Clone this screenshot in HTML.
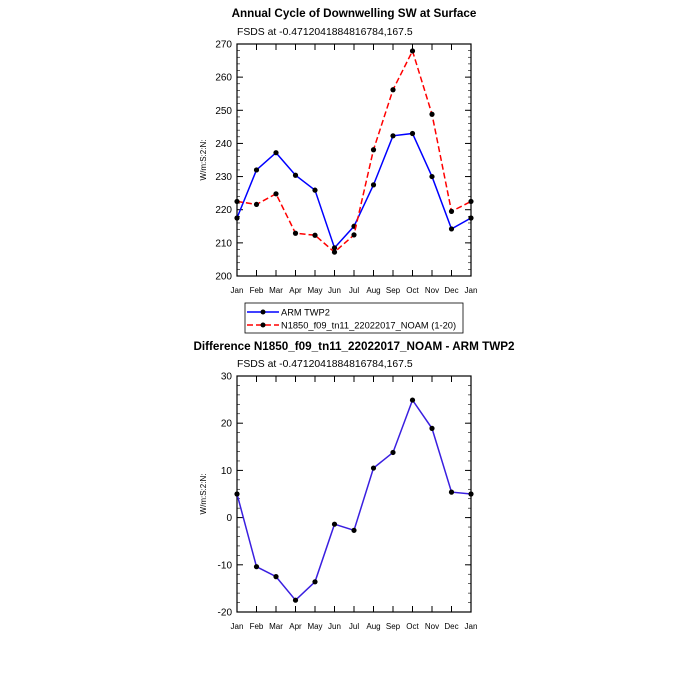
<!DOCTYPE html>
<html><head><meta charset="utf-8"><style>
body{margin:0;background:#fff}
svg{font-family:"Liberation Sans",sans-serif}
</style></head><body>
<svg id="c" width="675" height="675" viewBox="0 0 675 675">
<text x="354" y="17" text-anchor="middle" font-size="11.7" font-weight="bold">Annual Cycle of Downwelling SW at Surface</text>
<text x="237" y="35" font-size="10.4">FSDS at -0.4712041884816784,167.5</text>
<text transform="translate(206,160) rotate(-90)" text-anchor="middle" font-size="8">W/m:S:2:N:</text>
<text x="354" y="350" text-anchor="middle" font-size="11.7" font-weight="bold">Difference N1850_f09_tn11_22022017_NOAM - ARM TWP2</text>
<text x="237" y="367" font-size="10.4">FSDS at -0.4712041884816784,167.5</text>
<text transform="translate(206,494) rotate(-90)" text-anchor="middle" font-size="8">W/m:S:2:N:</text>
<g>
<rect x="245" y="303" width="218" height="30" fill="#fff" stroke="#000" stroke-width="0.8"/>
<g>
<line x1="247" y1="312" x2="279" y2="312" stroke="#0000ff" stroke-width="1.5"/><circle cx="263" cy="312" r="2.5"/>
<text x="281" y="315.5" font-size="9.3">ARM TWP2</text></g>
<g>
<line x1="247" y1="325" x2="279" y2="325" stroke="#ff0000" stroke-width="1.5" stroke-dasharray="6,3"/><circle cx="263" cy="325" r="2.5"/>
<text x="281" y="328.5" font-size="9.3">N1850_f09_tn11_22022017_NOAM (1-20)</text></g>
</g>
</svg>
<script>
const months=["Jan","Feb","Mar","Apr","May","Jun","Jul","Aug","Sep","Oct","Nov","Dec","Jan"];
const armValues=[217.5,232,237.2,230.4,225.9,208.5,215,227.5,242.3,243,230,214.2,217.5];
const modelValues=[222.5,221.6,224.8,212.9,212.3,207.2,212.4,238.1,256.2,267.9,248.8,219.5,222.5];
const diffValues=[5,-10.4,-12.5,-17.5,-13.6,-1.4,-2.7,10.5,13.8,24.9,18.9,5.4,5];
const topTicks=[200,210,220,230,240,250,260,270];
const bottomTicks=[-20,-10,0,10,20,30];
const NS="http://www.w3.org/2000/svg";
const svg=document.getElementById('c');
function mk(tag,attrs,parent){const e=document.createElementNS(NS,tag);for(const k in attrs)e.setAttribute(k,attrs[k]);(parent||svg).appendChild(e);return e;}
function panel(name,top,bot,ymin,ymax,ticks,minorStep,series){
  const L=237,R=471;
  const x=i=>L+(R-L)*i/(months.length-1);
  const y=v=>bot-(bot-top)*(v-ymin)/(ymax-ymin);
  const g=mk('g',{});
  
  
  const fr=mk('rect',{x:L,y:top,width:R-L,height:bot-top,fill:'none',stroke:'#000','stroke-width':1.2},g);
  
  
  for(let v=ymin;v<=ymax+1e-9;v+=minorStep){
    mk('line',{x1:L,x2:L+3,y1:y(v),y2:y(v),stroke:'#000','stroke-width':0.6},g);
    mk('line',{x1:R-3,x2:R,y1:y(v),y2:y(v),stroke:'#000','stroke-width':0.6},g);
  }
  ticks.forEach(v=>{
    mk('line',{x1:L,x2:L+6,y1:y(v),y2:y(v),stroke:'#000','stroke-width':1},g);
    mk('line',{x1:R-6,x2:R,y1:y(v),y2:y(v),stroke:'#000','stroke-width':1},g);
    const t=mk('text',{x:L-5,y:y(v)+3.5,'text-anchor':'end','font-size':10},g);
    t.textContent=v;
    
    
  });
  months.forEach((m,i)=>{
    mk('line',{x1:x(i),x2:x(i),y1:bot,y2:bot-6,stroke:'#000','stroke-width':1},g);
    mk('line',{x1:x(i),x2:x(i),y1:top,y2:top+6,stroke:'#000','stroke-width':1},g);
    const t=mk('text',{x:x(i),y:bot+17,'text-anchor':'middle','font-size':8},g);
    t.textContent=m;
    
    
  });
  series.forEach(s=>{
    const pl=mk('polyline',{points:s.vals.map((v,i)=>x(i)+','+y(v)).join(' '),fill:'none',stroke:s.color,'stroke-width':1.5,'stroke-dasharray':s.dash||'none'},g);
    
    
    s.vals.forEach((v,i)=>{
      const c=mk('circle',{cx:x(i),cy:y(v),r:2.6,fill:'#000'},g);
      
      
    });
  });
}
panel('top-plot',44,276,200,270,topTicks,2,[
  {name:'arm-twp2',vals:armValues,color:'#0000ff'},
  {name:'model',vals:modelValues,color:'#ff0000',dash:'6,3'}]);
panel('difference-plot',376,612,-20,30,bottomTicks,2,[
  {name:'difference',vals:diffValues,color:'#3a1fe0'}]);
</script>
</body></html>
